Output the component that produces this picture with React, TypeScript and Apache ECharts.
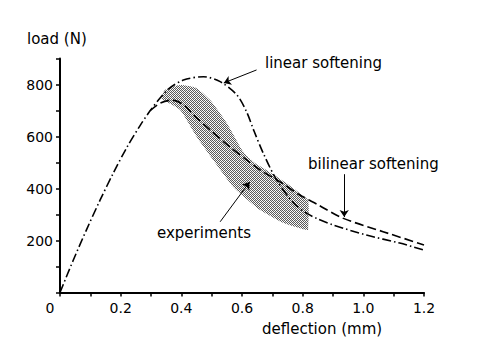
import React, { useEffect, useRef } from "react";
import * as echarts from "echarts";

// deflection (mm), load (N)
const linearSoftening: [number, number][] = [
  [0, 0], [0.044, 125], [0.088, 243], [0.132, 355], [0.176, 460], [0.22, 557],
  [0.264, 642], [0.297, 699], [0.33, 748], [0.36, 785], [0.407, 817], [0.473, 830],
  [0.528, 811], [0.583, 760], [0.615, 695], [0.64, 620], [0.67, 536], [0.714, 433],
  [0.77, 344], [0.813, 305], [0.85, 283], [0.9, 260], [1.01, 221], [1.12, 190], [1.2, 163],
];

const bilinearSoftening: [number, number][] = [
  [0.297, 699], [0.33, 728], [0.37, 740], [0.41, 720], [0.44, 683], [0.495, 625],
  [0.56, 560], [0.615, 510], [0.66, 471], [0.725, 426], [0.79, 375], [0.85, 338],
  [0.93, 287], [1.065, 234], [1.2, 183],
];

const experimentsUpper: [number, number][] = [
  [0.335, 745], [0.346, 779], [0.396, 798], [0.45, 786], [0.495, 740], [0.55, 651],
  [0.605, 540], [0.64, 500], [0.68, 471], [0.747, 420], [0.79, 382], [0.818, 355],
];
const experimentsLower: [number, number][] = [
  [0.35, 735], [0.396, 702], [0.45, 600], [0.505, 510], [0.571, 407], [0.615, 360],
  [0.66, 317], [0.737, 267], [0.813, 240], [0.818, 240],
];

const xTickLabels = ["0.2", "0.4", "0.6", "0.8", "1.0", "1.2"];
const yTickLabels = ["200", "400", "600", "800"];

const FONT = "DejaVu Sans";

export default function App() {
  const ref = useRef<HTMLDivElement>(null);
  useEffect(() => {
    if (!ref.current) return;
    const chart = echarts.init(ref.current, undefined, { renderer: "svg" });

    const cv = document.createElement("canvas");
    cv.width = 4;
    cv.height = 4;
    const ctx = cv.getContext("2d");
    if (ctx) {
      ctx.fillStyle = "#ffffff";
      ctx.fillRect(0, 0, 4, 4);
      ctx.fillStyle = "#5a5a5a";
      for (let i = 0; i < 4; i++)
        for (let j = 0; j < 4; j++) if ((i + j) % 2 === 0) ctx.fillRect(i, j, 1, 1);
      ctx.fillStyle = "#d8d8d8";
      ctx.fillRect(1, 2, 1, 1);
      ctx.fillRect(3, 0, 1, 1);
    }

    const bandPolygon = [...experimentsUpper, ...[...experimentsLower].reverse()];

    const arrowStyle = { color: "#000", width: 1, type: "solid" as const };

    chart.setOption({
      animation: false,
      grid: { left: 60, right: 70, top: 58.5, bottom: 61.5 },
      xAxis: {
        type: "value",
        min: 0,
        max: 1.2,
        interval: 0.1,
        splitLine: { show: false },
        axisLine: { onZero: false, lineStyle: { color: "#000", width: 2 } },
        axisTick: { show: true, length: 4, lineStyle: { color: "#000", width: 1.5 } },
        axisLabel: {
          color: "#000",
          fontFamily: FONT,
          fontSize: 14,
          margin: 8,
          formatter: (v: number) => {
            const k = Math.round(v * 10);
            if (k % 2 !== 0 || k === 0) return "";
            return xTickLabels[k / 2 - 1] ?? "";
          },
        },
      },
      yAxis: {
        type: "value",
        min: 0,
        max: 900,
        interval: 100,
        splitLine: { show: false },
        axisLine: { onZero: false, lineStyle: { color: "#000", width: 2 } },
        axisTick: { show: true, length: 4, lineStyle: { color: "#000", width: 1.5 } },
        axisLabel: {
          color: "#000",
          fontFamily: FONT,
          fontSize: 14,
          margin: 7,
          formatter: (v: number) => {
            const k = Math.round(v / 100);
            if (k % 2 !== 0 || k === 0) return "";
            return yTickLabels[k / 2 - 1] ?? "";
          },
        },
      },
      series: [
        {
          type: "custom",
          name: "experiments",
          coordinateSystem: "cartesian2d",
          data: bandPolygon,
          encode: { x: 0, y: 1 },
          silent: true,
          renderItem: (params: any, api: any) => {
            if (params.dataIndex !== 0) return null;
            const pts = bandPolygon.map((p) => api.coord(p));
            return {
              type: "polygon",
              shape: { points: pts, smooth: 0.2 },
              style: { fill: { image: cv, repeat: "repeat" }, stroke: "none" },
            };
          },
        },
        {
          type: "line",
          name: "linear softening",
          data: linearSoftening,
          smooth: 0.3,
          showSymbol: false,
          lineStyle: { color: "#000", width: 1.6, type: [9, 3, 1.5, 3] },
          markLine: {
            silent: true,
            symbol: ["none", "arrow"],
            symbolSize: 7,
            label: { show: false },
            lineStyle: arrowStyle,
            data: [
              [{ coord: [0.648, 856] }, { coord: [0.54, 806] }],
              [{ coord: [0.937, 455] }, { coord: [0.937, 290] }],
              [{ coord: [0.528, 272] }, { coord: [0.625, 425] }],
            ],
          },
        },
        {
          type: "line",
          name: "bilinear softening",
          data: bilinearSoftening,
          smooth: 0.3,
          showSymbol: false,
          lineStyle: { color: "#000", width: 1.6, type: [9, 4] },
        },
      ],
      graphic: [
        { type: "text", x: 27, y: 39, style: { text: "load (N)", fontFamily: FONT, fontSize: 15, fill: "#000", textVerticalAlign: "middle" } },
        { type: "text", x: 265, y: 63, style: { text: "linear softening", fontFamily: FONT, fontSize: 15, fill: "#000", textVerticalAlign: "middle" } },
        { type: "text", x: 308, y: 164, style: { text: "bilinear softening", fontFamily: FONT, fontSize: 15, fill: "#000", textVerticalAlign: "middle" } },
        { type: "text", x: 157, y: 233, style: { text: "experiments", fontFamily: FONT, fontSize: 15, fill: "#000", textVerticalAlign: "middle" } },
        { type: "text", x: 262, y: 329, style: { text: "deflection (mm)", fontFamily: FONT, fontSize: 15, fill: "#000", textVerticalAlign: "middle" } },
        { type: "text", x: 50, y: 308, style: { text: "0", fontFamily: FONT, fontSize: 14, fill: "#000", textAlign: "center", textVerticalAlign: "middle" } },
      ],
    });
    return () => chart.dispose();
  }, []);
  return <div ref={ref} style={{ width: 494, height: 354, position: "absolute", left: 0, top: 0, background: "#fff" }} />;
}
